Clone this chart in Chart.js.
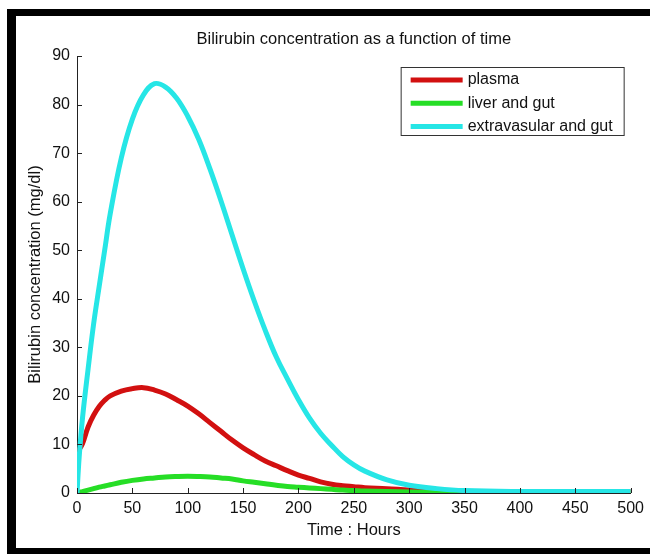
<!DOCTYPE html>
<html>
<head>
<meta charset="utf-8">
<script src="https://cdn.jsdelivr.net/npm/chart.js@4.4.1/dist/chart.umd.min.js"></script>
<style>
  html, body { margin: 0; padding: 0; background: #fff; }
</style>
</head>
<body>
<canvas id="myChart" width="650" height="554"></canvas>
<script>
// time axis (hours) and the three compartments
const hours = [0, 2, 5, 10, 15, 20, 25, 30, 40, 50, 60, 70, 80, 90, 100, 110, 120, 130, 140, 150,
  160, 170, 180, 190, 200, 210, 220, 230, 240, 250, 260, 280, 300, 325, 350, 400, 450, 500];
const plasma = [8.5, 9.0, 10.2, 13.6, 16.0, 17.8, 19.1, 20.0, 21.0, 21.5, 21.7, 21.2, 20.4, 19.2, 17.9, 16.3, 14.5, 12.7, 10.9, 9.3,
  7.9, 6.6, 5.6, 4.6, 3.7, 3.0, 2.3, 1.8, 1.5, 1.3, 1.1, 0.9, 0.6, 0.4, 0.3, 0.3, 0.3, 0.3];
const liverGut = [0, 0.1, 0.3, 0.6, 0.9, 1.2, 1.45, 1.7, 2.2, 2.6, 2.9, 3.1, 3.3, 3.4, 3.45, 3.4, 3.3, 3.1, 2.9, 2.5,
  2.2, 1.9, 1.6, 1.35, 1.2, 1.05, 0.9, 0.75, 0.6, 0.5, 0.4, 0.3, 0.2, 0.15, 0.1, 0.1, 0.1, 0.1];
const extravasularGut = [0, 7.5, 15.5, 25.5, 34.8, 42.5, 50, 57.5, 69, 77, 82, 84.3, 83.6, 81.3, 77.6, 72.8, 66.8, 60.2, 53.2, 46.2,
  39.6, 33.5, 28, 23.5, 19.2, 15.4, 12.3, 9.8, 7.5, 5.8, 4.5, 2.7, 1.6, 0.9, 0.5, 0.3, 0.3, 0.3];

const seriesLabels = ['plasma', 'liver and gut', 'extravasular and gut'];
const seriesColors = ['rgb(210, 16, 16)', 'rgb(38, 222, 38)', 'rgb(38, 230, 230)'];
const xRange = [0, 500, 50];
const yRange = [0, 90, 10];

const FONT = "'Liberation Sans', Arial, sans-serif";

function points(values) {
  return hours.map((h, i) => ({x: h, y: values[i]}));
}

// black frame round the picture (top, left, bottom)
const framePlugin = {
  id: 'frame',
  beforeDraw(chart) {
    const {ctx, width, height} = chart;
    ctx.save();
    ctx.fillStyle = '#fff';
    ctx.fillRect(0, 0, width, height);
    ctx.fillStyle = '#000';
    ctx.fillRect(7, 9, width - 7, 7);
    ctx.fillRect(7, 9, 9, height - 9);
    ctx.fillRect(7, height - 6, width - 7, 6);
    ctx.restore();
  }
};

// matlab style tick marks pointing into the axes
const innerTicks = {
  id: 'innerTicks',
  afterDraw(chart) {
    const {ctx, chartArea, scales} = chart;
    ctx.save();
    ctx.strokeStyle = '#222';
    ctx.lineWidth = 1;
    ctx.beginPath();
    scales.x.ticks.forEach(t => {
      const px = Math.round(scales.x.getPixelForValue(t.value)) + 0.5;
      ctx.moveTo(px, chartArea.bottom);
      ctx.lineTo(px, chartArea.bottom - 5);
    });
    scales.y.ticks.forEach(t => {
      const py = Math.round(scales.y.getPixelForValue(t.value)) + 0.5;
      ctx.moveTo(chartArea.left, py);
      ctx.lineTo(chartArea.left + 5, py);
    });
    ctx.stroke();
    ctx.restore();
  }
};

// boxed legend in the upper right of the axes
const boxLegend = {
  id: 'boxLegend',
  afterDraw(chart) {
    const {ctx, chartArea} = chart;
    const right = chartArea.right - 7;
    const left = right - 223;
    const top = chartArea.top + 11;
    const rowH = 23.3;
    const h = 68;
    ctx.save();
    ctx.fillStyle = '#fff';
    ctx.fillRect(left, top, right - left, h);
    ctx.strokeStyle = '#333';
    ctx.lineWidth = 1;
    ctx.strokeRect(left + 0.5, top + 0.5, right - left, h);
    ctx.font = '16px ' + FONT;
    ctx.textBaseline = 'middle';
    ctx.textAlign = 'left';
    chart.data.datasets.forEach((ds, i) => {
      const y = top + 13 + i * rowH;
      ctx.strokeStyle = ds.borderColor;
      ctx.lineWidth = 5;
      ctx.beginPath();
      ctx.moveTo(left + 10, y);
      ctx.lineTo(left + 62, y);
      ctx.stroke();
      ctx.fillStyle = '#111';
      ctx.fillText(ds.label, left + 67, y);
    });
    ctx.restore();
  }
};

const ctx = document.getElementById('myChart').getContext('2d');
const chart = new Chart(ctx, {
  type: 'line',
  data: {
    datasets: [plasma, liverGut, extravasularGut].map((vals, i) => ({
      label: seriesLabels[i],
      data: points(vals),
      borderColor: seriesColors[i],
      backgroundColor: seriesColors[i],
      borderWidth: 5,
      pointRadius: 0,
      fill: false,
      tension: 0.4,
      order: 3 - i,
    })),
  },
  options: {
    responsive: false,
    animation: false,
    layout: {
      padding: {left: 18, right: 18, top: 0, bottom: 0},
    },
    scales: {
      x: {
        type: 'linear',
        min: xRange[0],
        max: xRange[1],
        grid: {display: false, drawTicks: false},
        border: {display: true, color: '#222', width: 1},
        ticks: {
          stepSize: xRange[2],
          color: '#111',
          padding: 6,
          maxRotation: 0,
          font: {family: FONT, size: 16},
        },
        title: {
          display: true,
          text: 'Time : Hours',
          color: '#111',
          font: {family: FONT, size: 16.5},
          padding: {top: 0, bottom: 14.1},
        },
        afterFit(scale) { scale.height = 61; },
      },
      y: {
        type: 'linear',
        min: yRange[0],
        max: yRange[1],
        grid: {display: false, drawTicks: false},
        border: {display: true, color: '#222', width: 1},
        ticks: {
          stepSize: yRange[2],
          color: '#111',
          padding: 7,
          font: {family: FONT, size: 16},
        },
        title: {
          display: true,
          text: 'Bilirubin concentration (mg/dl)',
          color: '#111',
          font: {family: FONT, size: 16.5},
          padding: {top: 7.1, bottom: 0},
        },
        afterFit(scale) { scale.width = 59; },
      },
    },
    plugins: {
      legend: {display: false},
      tooltip: {enabled: false},
      title: {
        display: true,
        fullSize: false,
        text: 'Bilirubin concentration as a function of time',
        color: '#111',
        font: {family: FONT, size: 16.5, weight: 'normal'},
        padding: {top: 29.1, bottom: 7.1},
      },
    },
  },
  plugins: [framePlugin, innerTicks, boxLegend],
});
</script>
</body>
</html>
